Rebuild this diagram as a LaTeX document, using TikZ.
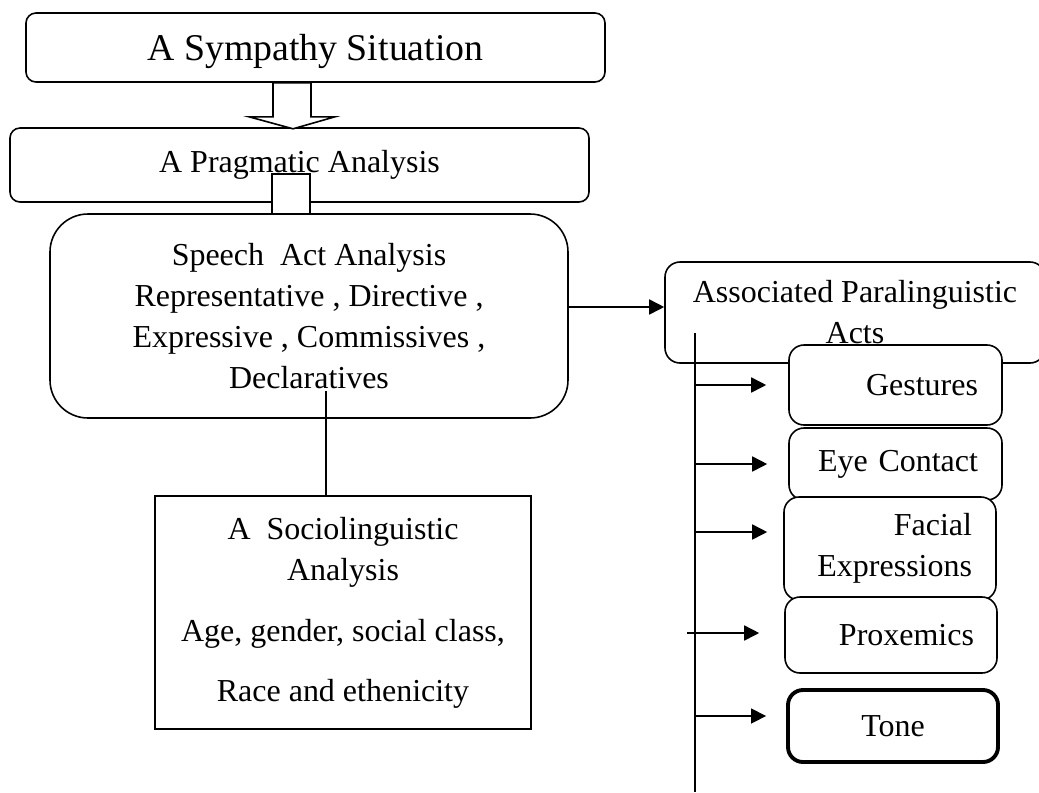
\documentclass[tikz,border=0pt]{standalone}
\usepackage{fontspec}
\setmainfont{Liberation Serif}
\usetikzlibrary{positioning, arrows.meta, calc}

\begin{document}
\begin{tikzpicture}[
    box/.style={draw, line width=0.9pt, rounded corners=0.2cm, fill=white, inner sep=0pt, align=center, font=\fontsize{18.2}{23.3}\selectfont},
    item/.style={box, rounded corners=0.3cm, inner xsep=0.48cm, inner ysep=0pt, text width=3.3cm, align=right},
    link/.style={-{Triangle[length=0.3cm, width=0.3cm]}, line width=0.9pt}
]
\useasboundingbox (0,0) rectangle (20.78,-15.84);

% Left column
\node[box, minimum width=11.58cm, minimum height=1.38cm, text depth=0pt, font=\fontsize{21.5}{25}\selectfont] (sym) at (6.31,-0.95) {A Sympathy Situation};
\node[box, minimum width=11.58cm, minimum height=1.48cm] (prag) at (5.99,-3.30) {A Pragmatic Analysis};
\node[box, rounded corners=0.76cm, minimum width=10.36cm, minimum height=4.08cm] (speech) at (6.18,-6.32) {Speech\ \ Act Analysis\\Representative , Directive ,\\Expressive , Commissives ,\\Declaratives};
\node[box, rounded corners=0pt, minimum width=7.52cm, minimum height=4.66cm] (socio) at (6.86,-12.25) {A\ \ Sociolinguistic\\Analysis\\[0.4cm]Age, gender, social class,\\[0.38cm]Race and ethenicity};

% Block arrow and joint
\draw[line width=0.9pt, fill=white] ([xshift=-0.85cm]sym.south) -- ++(0,-0.68) -- ++(-0.48,0) -- ++(0.88,-0.24) -- ++(0.84,0.24) -- ++(-0.48,0) -- ++(0,0.68) -- cycle;
\draw[line width=0.9pt, fill=white] (5.44,-3.48) rectangle (6.20,-4.28);

\coordinate (decl) at (6.52,-7.82);
\draw[line width=0.9pt] (decl) -- (decl |- socio.north);

% Right column
\node[box, rounded corners=0.3cm, minimum width=7.60cm, minimum height=2.02cm] (assoc) at (17.10,-6.25) {Associated Paralinguistic\\Acts};
\coordinate (a0) at ([yshift=0.11cm]assoc.west);
\draw[link] (a0 -| speech.east) -- (a0);

\coordinate (ttop) at (13.90,-6.66);
\coordinate (tbot) at (13.90,-15.84);
\draw[line width=0.9pt] (ttop) -- (tbot);

\node[item, minimum height=1.60cm] (gest) at (17.91,-7.70) {Gestures};
\node[item, minimum height=1.44cm] (eye) at (17.91,-9.28) {Eye Contact};
\node[item, text width=3.28cm, minimum height=2.06cm] (facial) at (17.80,-10.97) {Facial\\Expressions};
\node[item, text width=3.32cm, inner xsep=0.46cm, minimum height=1.52cm] (prox) at (17.82,-12.70) {Proxemics};
\node[box, rounded corners=0.3cm, line width=2.2pt, minimum width=4.20cm, minimum height=1.44cm] (tone) at (17.86,-14.52) {Tone};

\coordinate (fa) at (13.90,-10.64);
\coordinate (pa) at (13.74,-12.66);
\coordinate (ta) at (13.90,-14.32);

\draw[link, shorten >=0.44cm] (gest.west -| ttop) -- (gest.west);
\draw[link, shorten >=0.42cm] (eye.west -| ttop) -- (eye.west);
\draw[link, shorten >=0.32cm] (fa) -- (fa -| facial.west);
\draw[link, shorten >=0.50cm] (pa) -- (pa -| prox.west);
\draw[link, shorten >=0.40cm] (ta) -- (ta -| tone.west);

\end{tikzpicture}
\end{document}
